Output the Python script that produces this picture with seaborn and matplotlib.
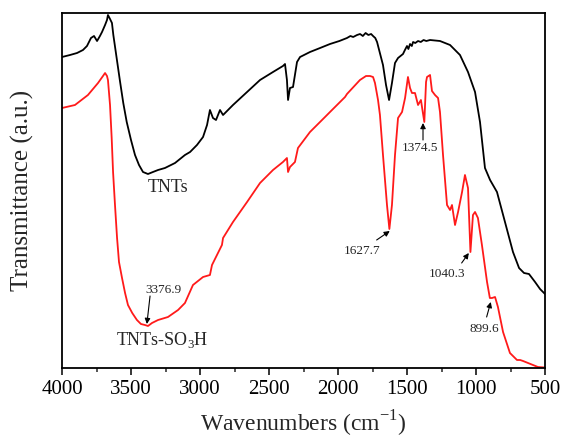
import matplotlib
matplotlib.use("Agg")
import matplotlib.pyplot as plt
import seaborn as sns
import pandas as pd
from matplotlib.ticker import MultipleLocator

# ---- data (wavenumber cm^-1, transmittance a.u.) ----
tnts_wn = [4000, 3942, 3891, 3848, 3819, 3790, 3768, 3746, 3725, 3710, 3688, 3674, 3667,
           3652, 3638, 3628, 3604, 3580, 3556, 3531, 3500, 3471, 3442, 3413, 3377, 3341,
           3304, 3254, 3181, 3109, 3072, 3022, 2978, 2949, 2928, 2906, 2884, 2855, 2833,
           2761, 2659, 2565, 2471, 2399, 2384, 2370, 2362, 2348, 2326, 2297, 2275, 2203,
           2130, 2058, 1990, 1935, 1910, 1890, 1862, 1840, 1820, 1800, 1780, 1760, 1746,
           1730, 1717, 1674, 1652, 1630, 1609, 1587, 1565, 1529, 1515, 1500, 1490, 1478,
           1465, 1456, 1440, 1420, 1400, 1380, 1360, 1333, 1261, 1188, 1116, 1058, 1007,
           971, 935, 898, 848, 790, 732, 688, 652, 616, 572, 536, 500]
tnts_t = [311, 313, 315, 318, 322, 330, 332, 327, 332, 336, 343, 348, 353,
          349, 345, 333, 310, 287, 265, 246, 228, 213, 203, 196, 194, 196,
          198, 200, 205, 213, 216, 223, 231, 243, 258, 250, 248, 258, 253,
          263, 276, 288, 296, 302, 304, 288, 268, 280, 281, 306, 311, 316,
          320, 324, 327, 330, 332, 331, 333, 334, 332, 335, 333, 334, 332,
          330, 326, 303, 283, 268, 285, 305, 310, 314, 318, 322, 319, 324,
          322, 326, 325, 327, 326, 328, 327, 328, 327, 323, 313, 296, 276,
          246, 200, 188, 176, 146, 116, 100, 95, 94, 86, 79, 74]

so3h_wn = [4000, 3906, 3812, 3739, 3703, 3688, 3674, 3667, 3652, 3640, 3630, 3616, 3601,
           3587, 3565, 3543, 3522, 3491, 3457, 3428, 3399, 3376.9, 3348, 3304, 3232, 3159,
           3109, 3051, 2978, 2928, 2913, 2877, 2841, 2833, 2761, 2659, 2565, 2471, 2399,
           2370, 2362, 2348, 2312, 2290, 2203, 2094, 2058, 1949, 1935, 1841, 1797, 1768,
           1746, 1732, 1710, 1696, 1674, 1645, 1627.7, 1609, 1587, 1565, 1536, 1514, 1493,
           1478, 1464, 1442, 1420, 1399, 1388, 1374.5, 1362, 1355, 1333, 1319, 1297, 1275,
           1261, 1239, 1210, 1188, 1174, 1152, 1130, 1101, 1080, 1058, 1040.3, 1022, 1007,
           986, 957, 920, 899.6, 884, 862, 841, 804, 754, 703, 680, 659, 623, 551, 500]
so3h_t = [260, 263, 273, 285, 292, 295, 292, 288, 263, 230, 196, 163, 130,
          106, 90, 75, 63, 55, 48, 44, 43, 42, 45, 48, 51, 58,
          65, 83, 91, 93, 103, 113, 123, 130, 146, 166, 185, 198, 206,
          210, 196, 201, 206, 220, 236, 251, 256, 271, 274, 288, 292, 292,
          291, 285, 268, 253, 213, 163, 139, 163, 213, 250, 256, 270, 291,
          280, 275, 275, 263, 268, 258, 246, 286, 291, 293, 277, 273, 270,
          256, 213, 163, 158, 163, 143, 156, 176, 193, 180, 116, 153, 156,
          150, 123, 86, 70, 70, 71, 61, 36, 15, 8, 8, 7, 5, 1, 0.5]

# peak annotations: label, label position, arrow tail, arrow tip
peak_labels = ["3376.9", "1627.7", "1374.5", "1040.3", "899.6"]
peak_text_xy = [(3268, 78), (1826, 117), (1406, 220), (1212, 94), (942, 39)]
peak_tail_xy = [(3362, 72), (1720, 128), (1384, 228), (1104, 105), (923, 51)]
peak_tip_xy = [(3385, 44), (1625, 137), (1384, 245), (1052, 115), (893, 66)]

df = pd.concat([
    pd.DataFrame({"wn": tnts_wn, "t": tnts_t, "sample": "TNTs"}),
    pd.DataFrame({"wn": so3h_wn, "t": so3h_t, "sample": "TNTs-SO3H"}),
])

sns.set_theme(style="white")
plt.rcParams["font.family"] = ["Liberation Serif", "DejaVu Serif"]
plt.rcParams["mathtext.fontset"] = "custom"
plt.rcParams["mathtext.rm"] = "Liberation Serif"

fig = plt.figure(figsize=(5.61, 4.42), dpi=100)
ax = fig.add_axes([62 / 561, 74 / 442, 483 / 561, 355 / 442])

sns.lineplot(data=df, x="wn", y="t", hue="sample", estimator=None,
             palette={"TNTs": "black", "TNTs-SO3H": "#ff1a1a"},
             linewidth=1.3, legend=False, ax=ax, sort=False)

ax.set_xlim(4000, 500)
ax.set_ylim(0, 355)
ax.set_yticks([])
ax.xaxis.set_major_locator(MultipleLocator(500))
ax.xaxis.set_minor_locator(MultipleLocator(250))
ax.tick_params(axis="x", which="major", direction="out", length=5, width=1.1,
               labelsize=15, pad=4, bottom=True, top=False, colors="black")
ax.tick_params(axis="x", which="minor", direction="out", length=3, width=1.1,
               bottom=True, top=False)
for s in ax.spines.values():
    s.set_color("black")
    s.set_linewidth(1.3)

ax.set_xlabel("Wavenumbers (cm$^{\\mathregular{-1}}$)", fontsize=17, labelpad=7)
ax.set_ylabel("Transmittance (a.u.)", fontsize=18, labelpad=20)

ax.text(3235, 180, "TNTs", fontsize=13, ha="center", va="center")
ax.text(3275, 28, "TNTs-SO$_{\\mathregular{3}}$H", fontsize=13, ha="center", va="center")

for lab, txy, tail, tip in zip(peak_labels, peak_text_xy, peak_tail_xy, peak_tip_xy):
    ax.text(txy[0], txy[1], lab, fontsize=9.5, ha="center", va="center")
    ax.annotate("", xy=tip, xytext=tail,
                arrowprops=dict(arrowstyle="-|>", color="black", lw=0.8,
                                mutation_scale=8, shrinkA=0, shrinkB=0))

fig.savefig("out.png", dpi=100)
